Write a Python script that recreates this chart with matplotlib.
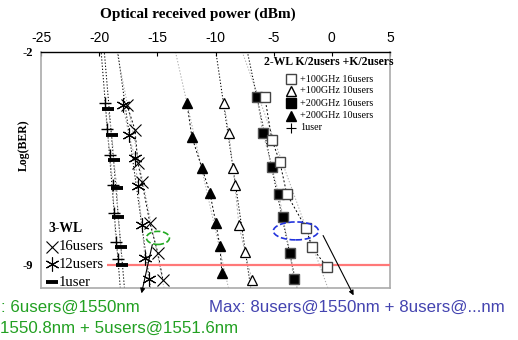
import numpy as np
import matplotlib.pyplot as plt
from matplotlib.patches import Ellipse

# received power (dBm) and Log(BER)
sq_open_x = [-5.76, -5.15, -4.47, -3.87, -2.23, -1.72, -0.43]
sq_open_y = [-3.48, -4.89, -5.61, -6.67, -7.78, -8.41, -9.07]
sq_fill_x = [-6.44, -5.93, -5.15, -4.55, -4.21, -3.61, -3.27]
sq_fill_y = [-3.48, -4.66, -5.78, -6.67, -7.42, -8.60, -9.46]
tri_open_x = [-9.28, -8.85, -8.50, -8.33, -7.99, -7.47, -6.87]
tri_open_y = [-3.68, -4.66, -5.81, -6.37, -7.69, -8.57, -9.49]
tri_fill_x = [-12.46, -12.03, -11.17, -10.48, -9.97, -9.62, -9.45]
tri_fill_y = [-3.68, -4.79, -5.81, -6.63, -7.62, -8.38, -9.26]
plus_x = [-19.50, -19.33, -19.07, -18.81, -18.73, -18.56, -18.38]
plus_y = [-3.68, -4.53, -5.38, -6.37, -7.29, -8.24, -8.80]
dash_x = [-19.24, -18.90, -18.73, -18.47, -18.38, -18.13, -18.04]
dash_y = [-3.87, -4.73, -5.55, -6.47, -7.42, -8.41, -9.00]
ast_x = [-17.96, -17.44, -16.92, -16.67, -16.32, -16.07, -15.72]
ast_y = [-3.74, -4.73, -5.48, -6.40, -7.69, -8.77, -9.46]
x16_x = [-17.61, -16.92, -16.67, -16.32, -15.64, -14.95, -14.52]
x16_y = [-3.74, -4.56, -5.65, -6.27, -7.62, -8.61, -9.49]

xticks = [-25, -20, -15, -10, -5, 0, 5]
SERIF = 'Liberation Serif'
SANS = 'Liberation Sans'

W, H = 518, 340
fig = plt.figure(figsize=(W / 100, H / 100), dpi=100)
ax = fig.add_axes([41 / W, 1 - 288 / H, 349 / W, 236 / H])
ax.set_xlim(-25, 5)
ax.set_ylim(-9.756, -2)

ylo, yhi = -9.756, -2
series = [
    (plus_x, plus_y, 'k'), (dash_x, dash_y, 'k'), (ast_x, ast_y, 'k'), (x16_x, x16_y, '#aaaaaa'),
    (tri_fill_x, tri_fill_y, '#aaaaaa'), (tri_open_x, tri_open_y, 'k'),
    (sq_fill_x, sq_fill_y, 'k'), (sq_open_x, sq_open_y, '#aaaaaa'),
]
for xs, ys, c in series:
    # trend line over the full height (x as a function of Log(BER))
    p = np.polyfit(ys, xs, 1)
    yy = np.array([ylo, yhi])
    ax.plot(np.polyval(p, yy), yy, ls=(0, (1.2, 1.8)), lw=0.75, color=c)
    other = '#aaaaaa' if c == 'k' else 'k'
    ax.plot(xs, ys, ls=(0, (2, 2.2)), lw=0.7, color=other)

ax.hlines(-9, -19.3, 5, color='#ff7878', lw=1.6, zorder=3)

ax.plot(plus_x, plus_y, ls='none', marker='+', ms=8, mew=1.0, color='k', zorder=4)
ax.plot(dash_x, dash_y, ls='none', marker='_', ms=8, mew=2.8, color='k', zorder=4)
ax.plot(ast_x, ast_y, ls='none', marker=(6, 2, 0), ms=10, mew=0.8, color='k', zorder=4)
ax.plot(x16_x, x16_y, ls='none', marker='x', ms=8, mew=0.8, color='k', zorder=4)
ax.plot(tri_fill_x, tri_fill_y, ls='none', marker='^', ms=7.5, color='k', zorder=4)
ax.plot(tri_open_x, tri_open_y, ls='none', marker='^', ms=7.5, mfc='white', mec='k', mew=0.9, zorder=4)
ax.plot(sq_fill_x, sq_fill_y, ls='none', marker='s', ms=7, color='k', mec='#555555', zorder=4)
ax.plot(sq_open_x, sq_open_y, ls='none', marker='s', ms=7, mfc='white', mec='#444444', mew=1.0, zorder=4)

# dashed ellipses and arrows
ax.add_patch(Ellipse((-14.95, -8.11), 1.98, 0.43, fill=False, ec='#22aa22', ls='--', lw=1.2, zorder=5))
ax.add_patch(Ellipse((-3.09, -7.88), 3.87, 0.59, fill=False, ec='#2233dd', ls='--', lw=1.2, zorder=5))
ax.annotate('', xy=(-16.41, -10.02), xytext=(-15.38, -8.24), annotation_clip=False,
            arrowprops=dict(arrowstyle='-|>', color='k', lw=0.8, mutation_scale=7))
ax.annotate('', xy=(1.98, -10.08), xytext=(-0.86, -7.95), annotation_clip=False,
            arrowprops=dict(arrowstyle='-|>', color='k', lw=0.8, mutation_scale=7))

# axes styling: ticks on top only
ax.xaxis.tick_top()
ax.set_xticks(xticks)
ax.set_xticklabels([str(v) for v in xticks], family=SANS, fontsize=10)
ax.tick_params(axis='x', direction='in', length=3, width=0.8, pad=5)
ax.set_yticks([-2, -9])
ax.set_yticklabels(['-2', '-9'], family=SERIF, fontweight='bold', fontsize=9)
ax.tick_params(axis='y', length=0, pad=6)
ax.spines['top'].set_color('k')
ax.spines['top'].set_linewidth(1.0)
for s in ('left', 'right', 'bottom'):
    ax.spines[s].set_color('#aaaaaa')
    ax.spines[s].set_linewidth(1.2)

def ftext(px, py, s, **kw):
    fig.text(px / W, 1 - py / H, s, va='center', **kw)

ftext(198, 14, 'Optical received power (dBm)', ha='center', family=SERIF, fontweight='bold', fontsize=11)
ftext(24, 145, 'Log(BER)', ha='center', rotation=90, family=SERIF, fontweight='bold', fontsize=8.5)

# 2-WL legend
ftext(329, 62, '2-WL K/2users +K/2users', ha='center', family=SERIF, fontweight='bold', fontsize=8.5)
leg2 = [
    (79, dict(marker='s', mfc='white', mec='#444444', ms=6.5), '+100GHz 16users'),
    (91, dict(marker='^', mfc='white', mec='k', ms=7), '+100GHz 10users'),
    (103, dict(marker='s', mfc='k', mec='k', ms=6.5), '+200GHz 16users'),
    (116, dict(marker='^', mfc='k', mec='k', ms=7), '+200GHz 10users'),
    (128, dict(marker='+', color='k', ms=7, mew=0.8), '1user'),
]
for py, mk, lab in leg2:
    fig.lines.append(plt.Line2D([291 / W], [1 - py / H], transform=fig.transFigure, ls='none', **mk))
    ftext(300, py, lab, ha='left', family=SERIF, fontsize=7.3)

# 3-WL legend
ftext(48, 228, '3-WL', ha='left', family=SERIF, fontweight='bold', fontsize=9.8)
leg3 = [
    (247, dict(marker='x', color='k', ms=8, mew=0.8), '16users'),
    (264, dict(marker=(6, 2, 0), color='k', ms=10, mew=0.8), '12users'),
    (282, dict(marker='_', color='k', ms=8, mew=2.8), '1user'),
]
for py, mk, lab in leg3:
    fig.lines.append(plt.Line2D([52 / W], [1 - py / H], transform=fig.transFigure, ls='none', **mk))
    ftext(59, py, lab, ha='left', family=SERIF, fontsize=10.6)

ftext(1, 307, ': 6users@1550nm', ha='left', family=SANS, fontsize=12.2, color='#22a022')
ftext(0, 328, '1550.8nm + 5users@1551.6nm', ha='left', family=SANS, fontsize=12.2, color='#22a022')
ftext(209, 307, 'Max: 8users@1550nm + 8users@...nm', ha='left', family=SANS, fontsize=12.2, color='#4444b0')

fig.savefig('out.png', dpi=100)
